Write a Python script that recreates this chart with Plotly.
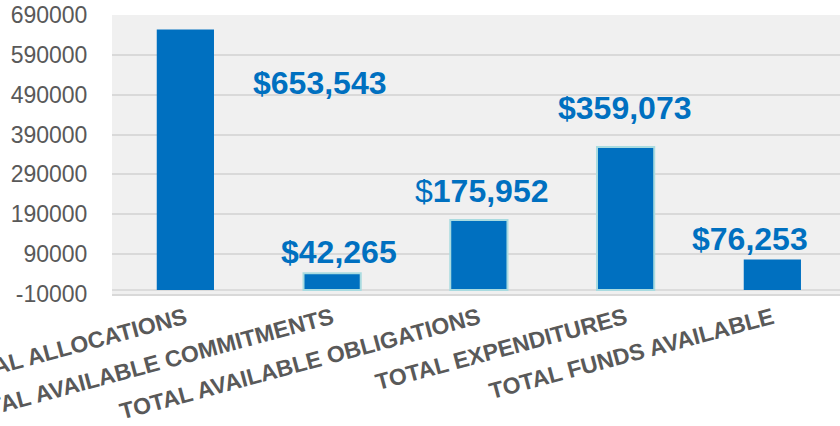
import plotly.graph_objects as go

categories = ["TOTAL ALLOCATIONS", "TOTAL AVAILABLE COMMITMENTS", "TOTAL AVAILABLE OBLIGATIONS",
              "TOTAL EXPENDITURES", "TOTAL FUNDS AVAILABLE"]
values = [653543, 42265, 175952, 359073, 76253]
value_labels = ["<b>$653,543</b>", "<b>$42,265</b>", "$<b>175,952</b>", "<b>$359,073</b>", "<b>$76,253</b>"]
y_ticks = [-10000, 90000, 190000, 290000, 390000, 490000, 590000, 690000]

# label placement (layout only)
label_x = [0.917, 1.046, 2.017, 2.995, 3.847]
label_y = [518800, 95300, 248100, 456200, 127800]

BLUE = "#0070C0"
GRAY = "#595959"
FONT = "Arial, Liberation Sans, sans-serif"

fig = go.Figure()
fig.add_trace(go.Bar(
    x=list(range(len(categories))),
    y=values,
    width=0.39,
    marker=dict(color=BLUE,
                line=dict(color=["rgba(0,0,0,0)", "#a9dbe0", "#a9dbe0", "#a9dbe0", "rgba(0,0,0,0)"],
                          width=2)),
    hoverinfo="skip",
))

for x, y, t in zip(label_x, label_y, value_labels):
    fig.add_annotation(x=x, y=y, text=t, showarrow=False, xref="x", yref="y",
                       font=dict(family=FONT, size=32, color=BLUE),
                       xanchor="center", yanchor="middle")

fig.update_layout(
    width=840, height=426,
    margin=dict(l=112, r=0, t=15, b=132),
    paper_bgcolor="white",
    plot_bgcolor="#f0f0f0",
    showlegend=False,
    font=dict(family=FONT, color=GRAY),
)
fig.update_xaxes(
    range=[-0.5, 4.461],
    tickmode="array",
    tickvals=list(range(len(categories))),
    ticktext=["<b>%s</b>" % c for c in categories],
    tickangle=-15,
    tickfont=dict(family=FONT, size=23, color=GRAY),
    ticklabeloverflow="allow",
    showgrid=False,
    showline=True, linecolor="#d9d9d9", linewidth=2,
    ticks="",
    automargin=False,
    zeroline=False,
)
fig.update_yaxes(
    range=[-10000, 690000],
    tickmode="array",
    tickvals=y_ticks,
    ticktext=[str(v) for v in y_ticks],
    tickfont=dict(family=FONT, size=23, color=GRAY),
    showgrid=True, gridcolor="#d9d9d9", gridwidth=2,
    zeroline=True, zerolinecolor="#dcdcdc", zerolinewidth=1.5,
    ticks="outside", ticklen=19, tickcolor="rgba(0,0,0,0)",
    automargin=False,
)

fig.write_html("out.html", config={"displayModeBar": False},
               post_script="document.body.style.margin='0';document.body.style.overflow='hidden';")
